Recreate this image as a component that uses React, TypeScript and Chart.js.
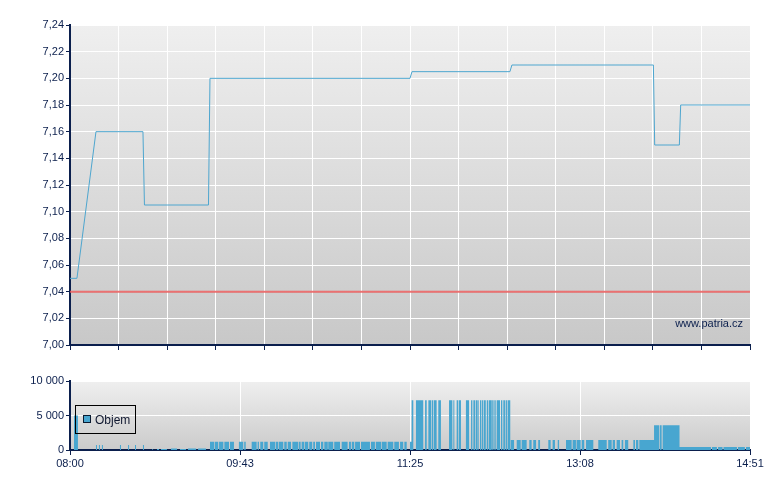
import React, { useEffect, useRef } from "react";
import { Chart, registerables } from "chart.js";

Chart.register(...registerables);

const NAVY = "#0b1f4d";
const BLUE_LINE = "#4ea6cf";
const BLUE_BAR = "#48a6d0";
const FONT = '"Liberation Sans", Arial, sans-serif';

// time axis in minutes since 08:00 (08:00 .. 14:51)
const SESSION_MINUTES = 411;

// price series (minutes since 08:00, price)
const priceTimes = [0, 4.2, 15.7, 44.1, 45.0, 83.7, 84.6, 205.5, 206.7, 265.9, 267.1, 352.6, 353.4, 368.3, 369.1, 411];
const priceValues = [7.05, 7.05, 7.16, 7.16, 7.105, 7.105, 7.2, 7.2, 7.205, 7.205, 7.21, 7.21, 7.15, 7.15, 7.18, 7.18];
const referencePrice = 7.04;

const priceTicks = [7.0, 7.02, 7.04, 7.06, 7.08, 7.1, 7.12, 7.14, 7.16, 7.18, 7.2, 7.22, 7.24];
const priceGridMinutes = [0, 29.36, 58.71, 88.07, 117.43, 146.79, 176.14, 205.5, 234.86, 264.21, 293.57, 322.93, 352.29, 381.64, 411];

const timeTicks = [0, 102.75, 205.5, 308.25, 411];
const timeLabels = ["08:00", "09:43", "11:25", "13:08", "14:51"];
const volumeTicks = [0, 5000, 10000];
const volumeTickLabels = ["0", "5 000", "10 000"];

// volume blocks: start minute, end minute, volume
const volStart = [
  2.4, 15.7, 17.5, 19.3, 30.2, 35.1, 39.3, 44.1, 49.6, 52.6, 55.0, 61.0, 66.5, 71.3, 77.4,
  84.6, 87.6, 90.1, 93.3, 96.7, 102.1, 105.3, 109.8, 113.4, 115.0, 117.4, 120.9, 124.3, 126.3, 129.5,
  131.6, 134.4, 138.4, 140.0, 142.0, 144.6, 147.0, 148.7, 151.7, 153.7, 156.1, 159.7, 164.2, 168.6,
  170.3, 172.3, 175.9, 181.9, 184.8, 188.4, 192.0, 196.0, 199.5, 202.1, 205.5,
  206.5, 209.1, 214.6, 216.6, 218.6, 219.8, 222.6, 229.1, 231.7, 233.7, 235.1, 239.3, 242.4, 243.8,
  245.2, 246.8, 247.8, 248.8, 250.0, 251.9, 253.2, 255.2, 256.5, 257.9, 260.5, 261.9, 263.3, 264.5,
  266.4, 270.0, 273.0, 277.6, 280.0, 283.0, 289.1, 291.7, 294.8, 299.8, 303.8, 306.2, 309.3, 311.9,
  319.3, 325.3, 328.0, 330.4, 333.4, 335.4, 340.5, 342.1, 344.1,
  353.0, 356.6, 358.2,
  368.4, 388.0, 391.7, 395.0, 403.7, 408.6,
];
const volEnd = [
  4.8, 16.3, 18.1, 19.9, 30.8, 35.7, 39.9, 44.7, 50.2, 53.8, 58.6, 64.7, 70.1, 76.2, 82.2,
  87.2, 89.6, 92.7, 96.1, 99.1, 104.7, 106.2, 112.8, 114.2, 116.8, 119.5, 123.9, 125.9, 128.9, 131.0,
  133.6, 138.0, 139.4, 141.6, 144.0, 146.4, 148.1, 151.1, 153.1, 155.8, 159.1, 163.2, 167.8, 169.8,
  171.8, 175.3, 181.3, 184.3, 188.0, 191.4, 195.4, 198.8, 201.4, 203.5, 206.5,
  207.5, 213.5, 215.6, 218.2, 219.4, 221.6, 224.2, 231.1, 232.3, 234.7, 236.3, 241.2, 243.2, 244.8,
  246.4, 247.2, 248.4, 249.6, 251.3, 252.8, 254.9, 256.0, 257.3, 259.9, 261.3, 262.9, 264.1, 266.1,
  268.4, 272.4, 276.0, 279.0, 281.7, 284.1, 290.5, 293.1, 295.6, 303.2, 305.8, 308.7, 310.8, 316.3,
  324.4, 327.4, 329.4, 332.4, 334.4, 337.4, 341.5, 343.5, 353.0,
  356.2, 357.6, 368.4,
  387.4, 391.0, 394.4, 403.1, 407.9, 411,
];
const volValues = [
  5000, 720, 720, 720, 720, 720, 720, 720, 120, 150, 150, 200, 150, 200, 200,
  1200, 1200, 1200, 1200, 1200, 1200, 1200, 1200, 1200, 1200, 1200, 1200, 1200, 1200, 1200,
  1200, 1200, 1200, 1200, 1200, 1200, 1200, 1200, 1200, 1200, 1200, 1200, 1200, 1200,
  1200, 1200, 1200, 1200, 1200, 1200, 1200, 1200, 1200, 1200, 1200,
  7200, 7200, 7200, 7200, 7200, 7200, 7200, 7200, 7200, 7200, 7200, 7200, 7200, 7200,
  7200, 7200, 7200, 7200, 7200, 7200, 7200, 7200, 7200, 7200, 7200, 7200, 7200, 7200,
  1440, 1440, 1440, 1440, 1440, 1440, 1440, 1440, 1440, 1440, 1440, 1440, 1440, 1440,
  1440, 1440, 1440, 1440, 1440, 1440, 1440, 1440, 1440,
  3600, 3600, 3600,
  450, 450, 450, 450, 450, 450,
];

const gradientPlugin = (topColor: string, bottomColor: string) => ({
  id: "plotGradient",
  beforeDraw(chart: any) {
    const { ctx, chartArea: a } = chart;
    if (!a) return;
    const g = ctx.createLinearGradient(0, a.top, 0, a.bottom);
    g.addColorStop(0, topColor);
    g.addColorStop(1, bottomColor);
    ctx.save();
    ctx.fillStyle = g;
    ctx.fillRect(a.left, a.top, a.right - a.left, a.bottom - a.top);
    ctx.restore();
  },
});

const watermarkPlugin = {
  id: "watermark",
  afterDatasetsDraw(chart: any) {
    const { ctx, chartArea: a } = chart;
    ctx.save();
    ctx.font = `11px ${FONT}`;
    ctx.fillStyle = NAVY;
    ctx.textAlign = "right";
    ctx.textBaseline = "alphabetic";
    ctx.fillText("www.patria.cz", a.right - 7, a.bottom - 18);
    ctx.restore();
  },
};

const volumeLegendPlugin = {
  id: "volumeLegend",
  afterDraw(chart: any) {
    const { ctx, chartArea: a } = chart;
    const x = a.left + 5;
    const y = a.top + 24;
    ctx.save();
    ctx.strokeStyle = "#000000";
    ctx.lineWidth = 1;
    ctx.strokeRect(x + 0.5, y + 0.5, 60, 28);
    ctx.fillStyle = BLUE_BAR;
    ctx.fillRect(x + 8, y + 10, 8, 8);
    ctx.strokeStyle = "#0a1a30";
    ctx.strokeRect(x + 8.5, y + 10.5, 7, 7);
    ctx.font = `12px ${FONT}`;
    ctx.fillStyle = "#101830";
    ctx.textAlign = "left";
    ctx.textBaseline = "alphabetic";
    ctx.fillText("Objem", x + 20, y + 19);
    ctx.restore();
  },
};

export default function App() {
  const topRef = useRef<HTMLCanvasElement | null>(null);
  const bottomRef = useRef<HTMLCanvasElement | null>(null);

  useEffect(() => {
    const pricePoints = priceTimes.map((t, i) => ({ x: t, y: priceValues[i] }));
    const refPoints = [
      { x: 0, y: referencePrice },
      { x: SESSION_MINUTES, y: referencePrice },
    ];

    const top = new Chart(topRef.current as HTMLCanvasElement, {
      type: "line",
      data: {
        datasets: [
          {
            data: refPoints,
            borderColor: "rgba(232, 88, 88, 0.85)",
            borderWidth: 2,
            pointRadius: 0,
          },
          {
            data: pricePoints,
            borderColor: BLUE_LINE,
            borderWidth: 1,
            pointRadius: 0,
            tension: 0,
          },
        ],
      },
      options: {
        responsive: false,
        animation: false,
        events: [],
        layout: { padding: { left: 0, right: 30, top: 25, bottom: 0 } },
        plugins: { legend: { display: false }, tooltip: { enabled: false } },
        scales: {
          x: {
            type: "linear",
            min: 0,
            max: SESSION_MINUTES,
            afterBuildTicks: (s: any) => {
              s.ticks = priceGridMinutes.map((v) => ({ value: v }));
            },
            afterFit: (s: any) => {
              s.height = 20;
            },
            ticks: { display: false },
            grid: { color: "#ffffff", lineWidth: 1, tickLength: 5, tickColor: NAVY },
            border: { color: NAVY, width: 2 },
          },
          y: {
            type: "linear",
            min: 7.0,
            max: 7.24,
            afterBuildTicks: (s: any) => {
              s.ticks = priceTicks.map((v) => ({ value: v }));
            },
            afterFit: (s: any) => {
              s.width = 70;
            },
            ticks: {
              color: NAVY,
              font: { size: 11, family: FONT },
              padding: 2,
              callback: (v: any) => Number(v).toFixed(2).replace(".", ","),
            },
            grid: { color: "#ffffff", lineWidth: 1, tickLength: 4, tickColor: NAVY },
            border: { color: NAVY, width: 2 },
          },
        },
      },
      plugins: [gradientPlugin("#efefef", "#c8c8c8"), watermarkPlugin],
    } as any);

    const volPoints: { x: number; y: number }[] = [];
    volStart.forEach((s, i) => {
      volPoints.push({ x: s, y: volValues[i] });
      volPoints.push({ x: volEnd[i], y: 0 });
    });

    const bottom = new Chart(bottomRef.current as HTMLCanvasElement, {
      type: "line",
      data: {
        datasets: [
          {
            data: volPoints,
            stepped: "before",
            fill: "origin",
            backgroundColor: BLUE_BAR,
            borderColor: "rgba(0,0,0,0)",
            borderWidth: 0,
            pointRadius: 0,
          },
        ],
      },
      options: {
        responsive: false,
        animation: false,
        events: [],
        layout: { padding: { left: 0, right: 30, top: 16, bottom: 0 } },
        plugins: { legend: { display: false }, tooltip: { enabled: false } },
        scales: {
          x: {
            type: "linear",
            min: 0,
            max: SESSION_MINUTES,
            afterBuildTicks: (s: any) => {
              s.ticks = timeTicks.map((v) => ({ value: v }));
            },
            afterFit: (s: any) => {
              s.height = 40;
            },
            ticks: {
              color: NAVY,
              font: { size: 11, family: FONT },
              padding: 2,
              maxRotation: 0,
              autoSkip: false,
              callback: (_v: any, i: number) => timeLabels[i],
            },
            grid: { color: "#ffffff", lineWidth: 1, tickLength: 5, tickColor: NAVY },
            border: { color: NAVY, width: 2 },
          },
          y: {
            type: "linear",
            min: 0,
            max: 10000,
            afterBuildTicks: (s: any) => {
              s.ticks = volumeTicks.map((v) => ({ value: v }));
            },
            afterFit: (s: any) => {
              s.width = 70;
            },
            ticks: {
              color: NAVY,
              font: { size: 11, family: FONT },
              padding: 2,
              callback: (_v: any, i: number) => volumeTickLabels[i],
            },
            grid: { color: "#ffffff", lineWidth: 1, tickLength: 4, tickColor: NAVY },
            border: { color: NAVY, width: 2 },
          },
        },
      },
      plugins: [gradientPlugin("#efefef", "#cbcbcb"), volumeLegendPlugin],
    } as any);

    return () => {
      top.destroy();
      bottom.destroy();
    };
  }, []);

  return (
    <div style={{ position: "absolute", left: 0, top: 0, width: 780, height: 490, background: "#ffffff" }}>
      <canvas ref={topRef} width={780} height={365} style={{ position: "absolute", left: 0, top: 0, display: "block" }} />
      <canvas ref={bottomRef} width={780} height={125} style={{ position: "absolute", left: 0, top: 365, display: "block" }} />
    </div>
  );
}
